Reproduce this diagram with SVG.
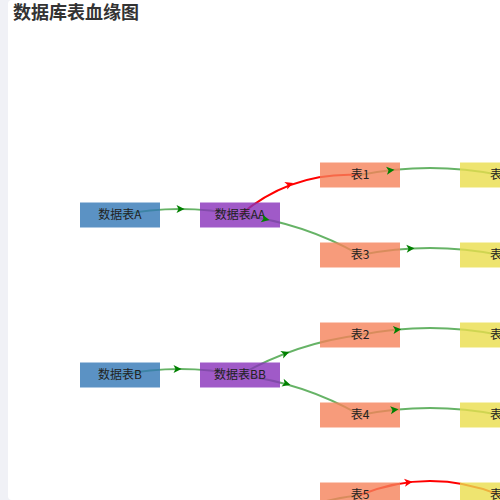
<svg xmlns="http://www.w3.org/2000/svg" xmlns:xlink="http://www.w3.org/1999/xlink" width="500" height="500" viewBox="0 0 500 500">
  <style>
    .edge { fill: none; stroke-width: 2; }
    .g { stroke: #008000; stroke-opacity: 0.6; }
    .r { stroke: #ff0000; }
    .node rect { opacity: 0.8; }
    .blue { fill: #3277b5; }
    .purple { fill: #8831ba; }
    .salmon { fill: #f5825a; }
    .yellow { fill: #eadd4c; }
    .node text { font-family: "Noto Sans CJK SC", "Microsoft YaHei", sans-serif; font-size: 12px; fill: #222; text-anchor: middle; }
    .node text.cut { text-anchor: start; }
    .title { font-family: "Noto Sans CJK SC", sans-serif; font-size: 18px; font-weight: bold; fill: #333; }
    .ag { fill: #008000; }
    .ar { fill: #ff0000; }
  </style>
  <defs>
    <path id="arrow" d="M4.5,0 L-3.5,-4 L-1.5,0 L-3.5,4 Z"/>
  </defs>

  <rect x="0" y="0" width="500" height="500" fill="#f0f1f6"/>
  <rect x="8" y="0" width="500" height="500" rx="4" fill="#ffffff"/>
  <text class="title" x="13" y="18.5">数据库表血缘图</text>

  <g id="connectors">
    <path class="edge g" d="M120,215 Q180,203 240,215"/>
    <path class="edge r" d="M240,215 Q292,171 360,175"/>
    <path class="edge g" d="M240,215 Q304,223 360,255"/>
    <path class="edge g" d="M360,175 Q430,161 500,175"/>
    <path class="edge g" d="M360,255 Q430,241 500,255"/>
    <path class="edge g" d="M120,375 Q180,363 240,375"/>
    <path class="edge g" d="M240,375 Q296,343 360,335"/>
    <path class="edge g" d="M240,375 Q304,383 360,415"/>
    <path class="edge g" d="M360,335 Q430,321 500,335"/>
    <path class="edge g" d="M360,415 Q430,401 500,415"/>
    <path class="edge g" d="M240,535 Q296,503 360,495"/>
    <path class="edge r" d="M360,495 Q430,467 500,495"/>
  </g>

  <g id="node-A" class="node">
    <rect class="blue" x="80" y="202.5" width="80" height="25"/>
    <text x="120" y="218.5">数据表A</text>
  </g>
  <g id="node-AA" class="node">
    <rect class="purple" x="200" y="202.5" width="80" height="25"/>
    <text x="240" y="218.5">数据表AA</text>
  </g>
  <g id="node-1" class="node">
    <rect class="salmon" x="320" y="162.5" width="80" height="25"/>
    <text x="360" y="178.5">表1</text>
  </g>
  <g id="node-3" class="node">
    <rect class="salmon" x="320" y="242.5" width="80" height="25"/>
    <text x="360" y="258.5">表3</text>
  </g>
  <g id="node-Y1" class="node">
    <rect class="yellow" x="460" y="162.5" width="80" height="25"/>
    <text class="cut" x="490" y="178.5">表</text>
  </g>
  <g id="node-Y3" class="node">
    <rect class="yellow" x="460" y="242.5" width="80" height="25"/>
    <text class="cut" x="490" y="258.5">表</text>
  </g>
  <g id="node-B" class="node">
    <rect class="blue" x="80" y="362.5" width="80" height="25"/>
    <text x="120" y="378.5">数据表B</text>
  </g>
  <g id="node-BB" class="node">
    <rect class="purple" x="200" y="362.5" width="80" height="25"/>
    <text x="240" y="378.5">数据表BB</text>
  </g>
  <g id="node-2" class="node">
    <rect class="salmon" x="320" y="322.5" width="80" height="25"/>
    <text x="360" y="338.5">表2</text>
  </g>
  <g id="node-4" class="node">
    <rect class="salmon" x="320" y="402.5" width="80" height="25"/>
    <text x="360" y="418.5">表4</text>
  </g>
  <g id="node-5" class="node">
    <rect class="salmon" x="320" y="482.5" width="80" height="25"/>
    <text x="360" y="498.5">表5</text>
  </g>
  <g id="node-Y2" class="node">
    <rect class="yellow" x="460" y="322.5" width="80" height="25"/>
    <text class="cut" x="490" y="338.5">表</text>
  </g>
  <g id="node-Y4" class="node">
    <rect class="yellow" x="460" y="402.5" width="80" height="25"/>
    <text class="cut" x="490" y="418.5">表</text>
  </g>
  <g id="node-Y5" class="node">
    <rect class="yellow" x="460" y="482.5" width="80" height="25"/>
    <text class="cut" x="490" y="498.5">表</text>
  </g>

  <g id="connector-arrows">
    <use xlink:href="#arrow" class="ag" transform="translate(180,209)"/>
    <use xlink:href="#arrow" class="ar" transform="translate(289,184.5) rotate(-20.7)"/>
    <use xlink:href="#arrow" class="ag" transform="translate(265,219) rotate(11.6)"/>
    <use xlink:href="#arrow" class="ag" transform="translate(390,170.3) rotate(-6.5)"/>
    <use xlink:href="#arrow" class="ag" transform="translate(410,248.6) rotate(-3.3)"/>
    <use xlink:href="#arrow" class="ag" transform="translate(177,369)"/>
    <use xlink:href="#arrow" class="ag" transform="translate(285,353.5) rotate(-21)"/>
    <use xlink:href="#arrow" class="ag" transform="translate(286,383.5) rotate(15.2)"/>
    <use xlink:href="#arrow" class="ag" transform="translate(396.7,329.6) rotate(-5.4)"/>
    <use xlink:href="#arrow" class="ag" transform="translate(394,409.8) rotate(-5.9)"/>
    <use xlink:href="#arrow" class="ar" transform="translate(408,482.4) rotate(-7.2)"/>
  </g>
</svg>
